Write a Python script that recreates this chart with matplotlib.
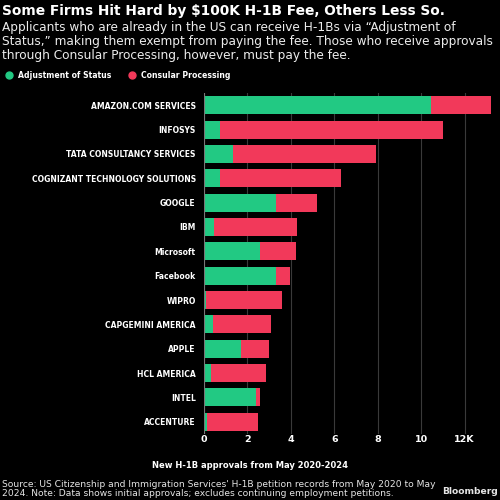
import matplotlib
matplotlib.use("Agg")
import matplotlib.pyplot as plt
from matplotlib.lines import Line2D

# H-1B approvals (thousands), May 2020-2024
companies = [
    "AMAZON.COM SERVICES", "INFOSYS", "TATA CONSULTANCY SERVICES",
    "COGNIZANT TECHNOLOGY SOLUTIONS", "GOOGLE", "IBM", "Microsoft",
    "Facebook", "WIPRO", "CAPGEMINI AMERICA", "APPLE", "HCL AMERICA",
    "INTEL", "ACCENTURE",
]
adjustment = [10.45, 0.75, 1.35, 0.75, 3.3, 0.45, 2.6, 3.3, 0.1, 0.4, 1.7, 0.3, 2.4, 0.15]
consular = [2.75, 10.25, 6.55, 5.55, 1.9, 3.85, 1.65, 0.65, 3.5, 2.7, 1.3, 2.55, 0.2, 2.35]
ticks = [0, 2, 4, 6, 8, 10, 12]
tick_labels = ["0", "2", "4", "6", "8", "10", "12K"]

green = "#22c983"
red = "#f2395a"

fig = plt.figure(figsize=(5, 5), dpi=100, facecolor="black")
ax = fig.add_axes([0.408, 0.132, 0.582, 0.682], facecolor="black")

y = range(len(companies))
ax.barh(y, adjustment, height=0.74, color=green, zorder=3)
ax.barh(y, consular, left=adjustment, height=0.74, color=red, zorder=3)

ax.set_ylim(len(companies) - 0.5, -0.5)
ax.set_xlim(0, 13.4)
ax.set_yticks(list(y))
ax.set_yticklabels(companies, color="white", fontsize=5.5, fontweight="semibold")
ax.set_xticks(ticks)
ax.set_xticklabels(tick_labels, color="white", fontsize=6.8, fontweight="semibold")
ax.tick_params(axis="y", length=0, pad=6)
ax.tick_params(axis="x", length=0, pad=1)
ax.grid(axis="x", color="#3a3a3a", linewidth=0.8, zorder=0)
for s in ax.spines.values():
    s.set_visible(False)
ax.axvline(0, color="#777777", linewidth=0.8, zorder=4)

fig.text(0.5, 0.07, "New H-1B approvals from May 2020-2024", color="white",
         fontsize=6.0, fontweight="semibold", ha="center", va="center")

fig.text(0.004, 0.993, "Some Firms Hit Hard by $100K H-1B Fee, Others Less So.",
         color="white", fontsize=9.9, fontweight="bold", va="top")
fig.text(0.004, 0.958,
         "Applicants who are already in the US can receive H-1Bs via \u201cAdjustment of\n"
         "Status,\u201d making them exempt from paying the fee. Those who receive approvals\n"
         "through Consular Processing, however, must pay the fee.",
         color="#ececec", fontsize=8.7, va="top", linespacing=1.12)

handles = [
    Line2D([], [], marker="o", linestyle="", markersize=5, color=green),
    Line2D([], [], marker="o", linestyle="", markersize=5, color=red),
]
fig.legend(handles, ["Adjustment of Status", "Consular Processing"],
           loc="upper left", bbox_to_anchor=(-0.012, 0.872), ncol=2,
           frameon=False, labelcolor="white",
           handletextpad=0.2, columnspacing=1.6,
           prop={"size": 5.6, "weight": "semibold"})

fig.text(0.004, 0.04,
         "Source: US Citizenship and Immigration Services' H-1B petition records from May 2020 to May\n"
         "2024. Note: Data shows initial approvals; excludes continuing employment petitions.",
         color="#e6e6e6", fontsize=6.6, va="top", linespacing=1.0)
fig.text(0.995, 0.016, "Bloomberg", color="#e6e6e6", fontsize=6.6,
         fontweight="bold", ha="right", va="center")

fig.savefig("out.png", dpi=100, facecolor="black")
